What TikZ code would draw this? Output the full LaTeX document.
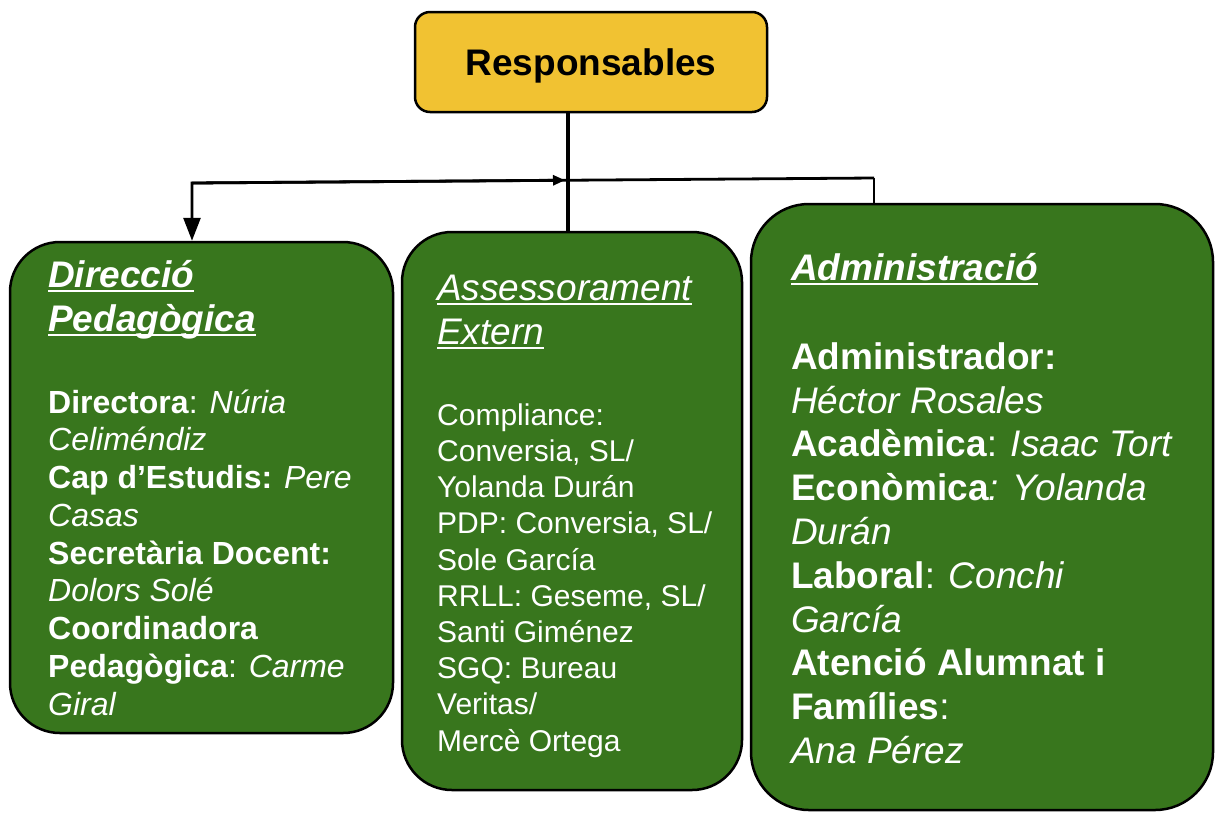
\documentclass[tikz,border=0pt]{standalone}
\usepackage{fontspec}
\setmainfont{Liberation Sans}
\usetikzlibrary{arrows.meta}
\definecolor{gdark}{HTML}{38761D}
\definecolor{gold}{HTML}{F1C232}
\newlength\myulw
\newcommand\myul[1]{\settowidth\myulw{#1}\rlap{\rule[-0.14em]{\myulw}{0.065em}}#1}
\newcommand\st{\rule{0pt}{40pt}}
\tikzset{
  gbox/.style={draw=black, line width=2.5pt, fill=gdark, rectangle, inner sep=0pt},
  ybox/.style={draw=black, line width=2.5pt, fill=gold, rectangle, rounded corners=15pt, inner sep=0pt},
  txt/.style={anchor=north west, inner sep=0pt, align=left, text=white},
  conn/.style={draw=black, line width=2.8pt},
}
\begin{document}
\begin{tikzpicture}[x=1pt,y=-1pt]
\useasboundingbox (0,0) rectangle (1217,812);
% top box
\node[ybox, minimum width=352pt, minimum height=100pt, text height=26pt, text depth=0pt, font=\fontsize{37}{44}\selectfont\bfseries] (resp) at (591,62) {Responsables};
% green boxes
\node[gbox, rounded corners=50pt, minimum width=383pt, minimum height=491pt] (dir) at (201.5,487.5) {};
\node[gbox, rounded corners=50pt, minimum width=340pt, minimum height=558pt] (ass) at (572,511) {};
\node[gbox, rounded corners=58pt, minimum width=462pt, minimum height=606pt] (adm) at (982,507) {};
% connectors
\coordinate (j) at (568,180);
\coordinate (cl) at (192,183);
\coordinate (cr) at (874,178);
\draw[line width=4pt] (resp.south -| j) -- (ass.north -| j);
\draw[conn, -{Triangle[length=23pt,width=17pt]}] (cr) -- (cl) -- (cl |- dir.north);
\draw[conn] (cr) -- (cr |- adm.north);
\draw[conn, -{Triangle[length=12pt,width=10pt]}] (cl) -- (565,180.2);
% texts: Direcció Pedagògica
\node[txt, font=\fontsize{37}{44}\selectfont\bfseries\itshape] (dirh) at (48,247)
  {\st\myul{Direcció}\\\myul{Pedagògica}};
\node[txt, font=\fontsize{32}{37.75}\selectfont] (dirb) at (48,373)
  {\st\textbf{Directora}: \textit{Núria}\\
   \textit{Celiméndiz}\\
   \textbf{Cap d’Estudis:} \textit{Pere}\\
   \textit{Casas}\\
   \textbf{Secretària Docent:}\\
   \textit{Dolors Solé}\\
   \textbf{Coordinadora}\\
   \textbf{Pedagògica}: \textit{Carme}\\
   \textit{Giral}};
% Assessorament Extern
\node[txt, font=\fontsize{37}{44}\selectfont\itshape] (assh) at (437,260)
  {\st\myul{Assessorament}\\\myul{Extern}};
\node[txt, font=\fontsize{30}{36.2}\selectfont] (assb) at (437,385)
  {\st Compliance:\\
   Conversia, SL/\\
   Yolanda Durán\\
   PDP: Conversia, SL/\\
   Sole García\\
   RRLL: Geseme, SL/\\
   Santi Giménez\\
   SGQ: Bureau\\
   Veritas/\\
   Mercè Ortega};
% Administració
\node[txt, font=\fontsize{37}{44}\selectfont\bfseries\itshape] (admh) at (791,240)
  {\st\myul{Administració}};
\node[txt, font=\fontsize{37}{43.8}\selectfont] (admb) at (791,329)
  {\st\textbf{Administrador:}\\
   \textit{Héctor Rosales}\\
   \textbf{Acadèmica}: \textit{Isaac Tort}\\
   \textbf{Econòmica}\textit{: Yolanda}\\
   \textit{Durán}\\
   \textbf{Laboral}: \textit{Conchi}\\
   \textit{García}\\
   \textbf{Atenció Alumnat i}\\
   \textbf{Famílies}:\\
   \textit{Ana Pérez}};
\end{tikzpicture}
\end{document}
